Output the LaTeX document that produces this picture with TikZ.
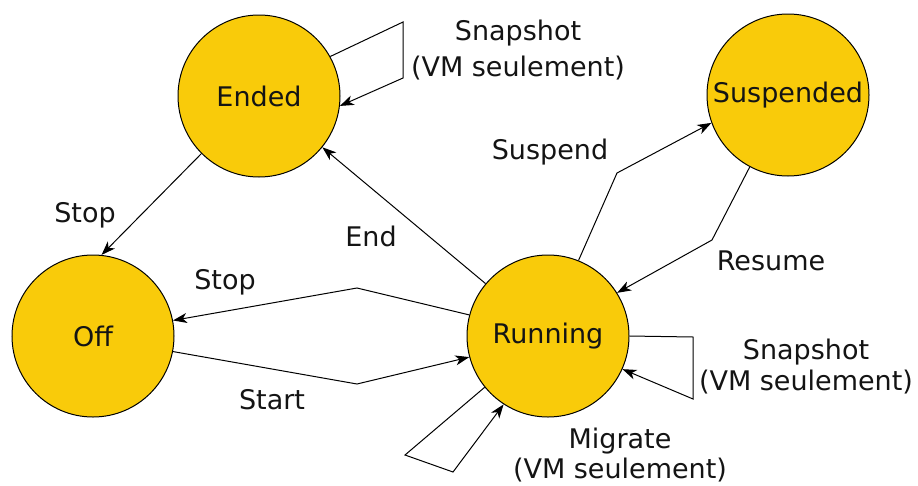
\documentclass[tikz,border=0pt]{standalone}
\usepackage{fontspec}
\setmainfont{DejaVu Sans}
\usetikzlibrary{arrows.meta}
\definecolor{stfill}{RGB}{249,203,10}
\definecolor{txt}{RGB}{20,20,20}
\tikzset{
  state/.style={circle, draw=black, line width=1pt, fill=stfill, minimum size=162pt, inner sep=0pt, font=\fontsize{27}{30}\selectfont, text=txt},
  lbl/.style={font=\fontsize{27}{32}\selectfont, text=txt, align=center, inner sep=0pt},
  tr/.style={draw=black, line width=1pt, -{Stealth[length=14pt,width=10pt,inset=4pt]}}
}
\begin{document}
\begin{tikzpicture}[x=1pt,y=-1pt]
\useasboundingbox (0,0) rectangle (918,485);
\node[state] (ended) at (259,96) {Ended};
\node[state] (off) at (93,336) {Off};
\node[state] (run) at (548,336) {Running};
\node[state] (susp) at (788,95) {Suspended};

\coordinate (bstop) at (357,288);
\coordinate (bstart) at (357,384);
\coordinate (bsusp) at (617,173);
\coordinate (bres) at (712,240);
\coordinate (le1) at (403,22);
\coordinate (le2) at (403,78);
\coordinate (lr1) at (693,337);
\coordinate (lr2) at (693,399);
\coordinate (lm1) at (405,455);
\coordinate (lm2) at (453,472);

\draw[tr] (ended.-135) -- (off.84);
\draw[tr] (run.140) -- (ended.-39);
\draw[tr] (run.165) -- (bstop) -- (off.11);
\draw[tr] (off.-11) -- (bstart) -- (run.-165);
\draw[tr] (run.68) -- (bsusp) -- (susp.200);
\draw[tr] (susp.-118) -- (bres) -- (run.32);
\draw[tr] (ended.29) -- (le1) -- (le2) -- (ended.-7);
\draw[tr] (run.0) -- (lr1) -- (lr2) -- (run.-24);
\draw[tr] (run.-141) -- (lm1) -- (lm2) -- (run.-123);

\node[lbl] (l1) at (85,215) {Stop};
\node[lbl] (l2) at (371,236) {End};
\node[lbl] (l3) at (225,282) {Stop};
\node[lbl] (l4) at (272,400) {Start};
\node[lbl] (l5) at (550,152) {Suspend};
\node[lbl] (l6) at (771,261) {Resume};
\node[lbl, font=\fontsize{27}{36}\selectfont] (l7) at (518,50) {Snapshot\\(VM seulement)};
\node[lbl, font=\fontsize{27}{31}\selectfont] (l8) at (806,367) {Snapshot\\(VM seulement)};
\node[lbl, font=\fontsize{27}{30}\selectfont] (l9) at (620,455) {Migrate\\(VM seulement)};
\end{tikzpicture}
\end{document}
